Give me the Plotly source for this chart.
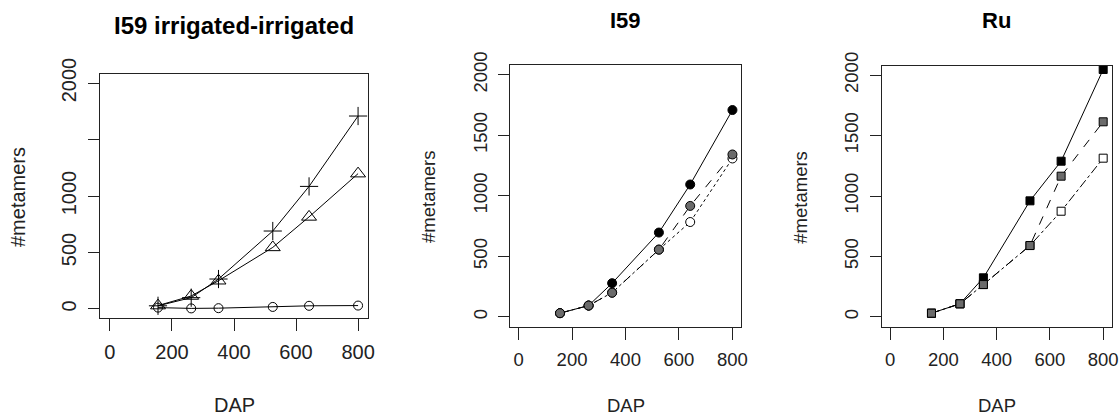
import plotly.graph_objects as go

# ---- data ----
dap = [155, 262, 350, 525, 642, 800]

# Panel 1: I59 irrigated-irrigated
p1_plus = [28, 100, 265, 690, 1085, 1708]
p1_tri = [30, 115, 250, 545, 815, 1198]
p1_circ = [12, 5, 7, 18, 28, 30]

# Panel 2: I59
i59_black = [30, 93, 278, 696, 1093, 1708]
i59_white = [30, 93, 200, 555, 783, 1308]
i59_gray = [30, 93, 199, 555, 916, 1341]

# Panel 3: Ru
ru_black = [30, 108, 323, 960, 1288, 2047]
ru_white = [30, 108, 267, 590, 874, 1313]
ru_gray = [30, 108, 267, 590, 1164, 1614]

x_ticks = [0, 200, 400, 600, 800]
y_ticks = [0, 500, 1000, 1500, 2000]
y_ticktext_p1 = ["0", "500", "1000", "", "2000"]
y_ticktext = ["0", "500", "1000", "1500", "2000"]
titles = ["I59 irrigated-irrigated", "I59", "Ru"]

W, H = 1120, 418
FONT = "Liberation Sans, Arial, sans-serif"
TXT = "#222222"

fig = go.Figure()

def line_trace(x, y, xa, ya, symbol, size, fill, dash, lw=1):
    return go.Scatter(
        x=x, y=y, xaxis=xa, yaxis=ya, mode="lines+markers",
        line=dict(color="black", width=lw, dash=dash),
        marker=dict(symbol=symbol, size=size, color=fill,
                    line=dict(color="black", width=1)),
        showlegend=False, cliponaxis=False, hoverinfo="x+y")

# panel 1
fig.add_trace(line_trace(dap, p1_circ, "x", "y", "circle-open", 9, "black", "solid"))
fig.add_trace(line_trace(dap, p1_tri, "x", "y", "triangle-up-open", 13, "black", "solid"))
fig.add_trace(line_trace(dap, p1_plus, "x", "y", "cross-thin-open", 13, "black", "solid"))

# panel 2
fig.add_trace(line_trace(dap, i59_black, "x2", "y2", "circle", 9, "black", "solid"))
fig.add_trace(line_trace(dap, i59_white, "x2", "y2", "circle", 9, "white", "dot"))
fig.add_trace(line_trace(dap, i59_gray, "x2", "y2", "circle", 9, "#6b6b6b", "dash"))

# panel 3
fig.add_trace(line_trace(dap, ru_black, "x3", "y3", "square", 8, "black", "solid"))
fig.add_trace(line_trace(dap, ru_white, "x3", "y3", "square", 8, "white", "dashdot"))
fig.add_trace(line_trace(dap, ru_gray, "x3", "y3", "square", 8, "#6b6b6b", "dash"))

# panel geometry (pixels)
panels = [
    dict(l=100, r=368, t=74, b=318, fs=20, tfs=24, ty=26, ytext=y_ticktext_p1),
    dict(l=510, r=741, t=65, b=326.5, fs=18.5, tfs=22, ty=20, ytext=y_ticktext),
    dict(l=881.7, r=1111.7, t=65.5, b=326.5, fs=18.5, tfs=22, ty=20, ytext=y_ticktext),
]

layout = dict(
    width=W, height=H, margin=dict(l=0, r=0, t=0, b=0, autoexpand=False),
    paper_bgcolor="white", plot_bgcolor="white",
    font=dict(family=FONT, color=TXT),
)
annotations = []
for i, p in enumerate(panels):
    sfx = "" if i == 0 else str(i + 1)
    layout["xaxis" + sfx] = dict(
        domain=[p["l"] / W, p["r"] / W], range=[-32, 832], automargin=False,
        anchor="y" + sfx, tickvals=x_ticks, ticktext=[str(v) for v in x_ticks],
        ticks="outside", ticklen=12, tickwidth=1, tickcolor="#222",
        showline=True, mirror=True, linecolor="#222", linewidth=1,
        showgrid=False, zeroline=False, ticklabelstandoff=4,
        tickfont=dict(size=p["fs"], family=FONT, color=TXT),
    )
    layout["yaxis" + sfx] = dict(
        domain=[1 - p["b"] / H, 1 - p["t"] / H], range=[-80, 2080], automargin=False,
        anchor="x" + sfx, tickvals=y_ticks, ticktext=p["ytext"],
        ticks="outside", ticklen=11, tickwidth=1, tickcolor="#222",
        showline=True, mirror=True, linecolor="#222", linewidth=1,
        showgrid=False, zeroline=False, tickangle=-90, ticklabelstandoff=4,
        tickfont=dict(size=p["fs"], family=FONT, color=TXT),
    )
    cx = (p["l"] + p["r"]) / 2
    annotations.append(dict(
        text="<b>" + titles[i] + "</b>", x=cx / W, y=1 - p["ty"] / H,
        xref="paper", yref="paper", xanchor="center", yanchor="middle",
        showarrow=False, font=dict(size=p["tfs"], family=FONT, color="black")))
    annotations.append(dict(
        text="DAP", x=cx / W, y=1 - 405 / H,
        xref="paper", yref="paper", xanchor="center", yanchor="middle",
        showarrow=False, font=dict(size=p["fs"], family=FONT, color=TXT)))
    annotations.append(dict(
        text="#metamers", x=(p["l"] - 82) / W, y=1 - 197 / H,
        xref="paper", yref="paper", xanchor="center", yanchor="middle",
        textangle=-90,
        showarrow=False, font=dict(size=p["fs"], family=FONT, color=TXT)))

layout["annotations"] = annotations
fig.update_layout(**layout)
fig.write_html("out.html")
